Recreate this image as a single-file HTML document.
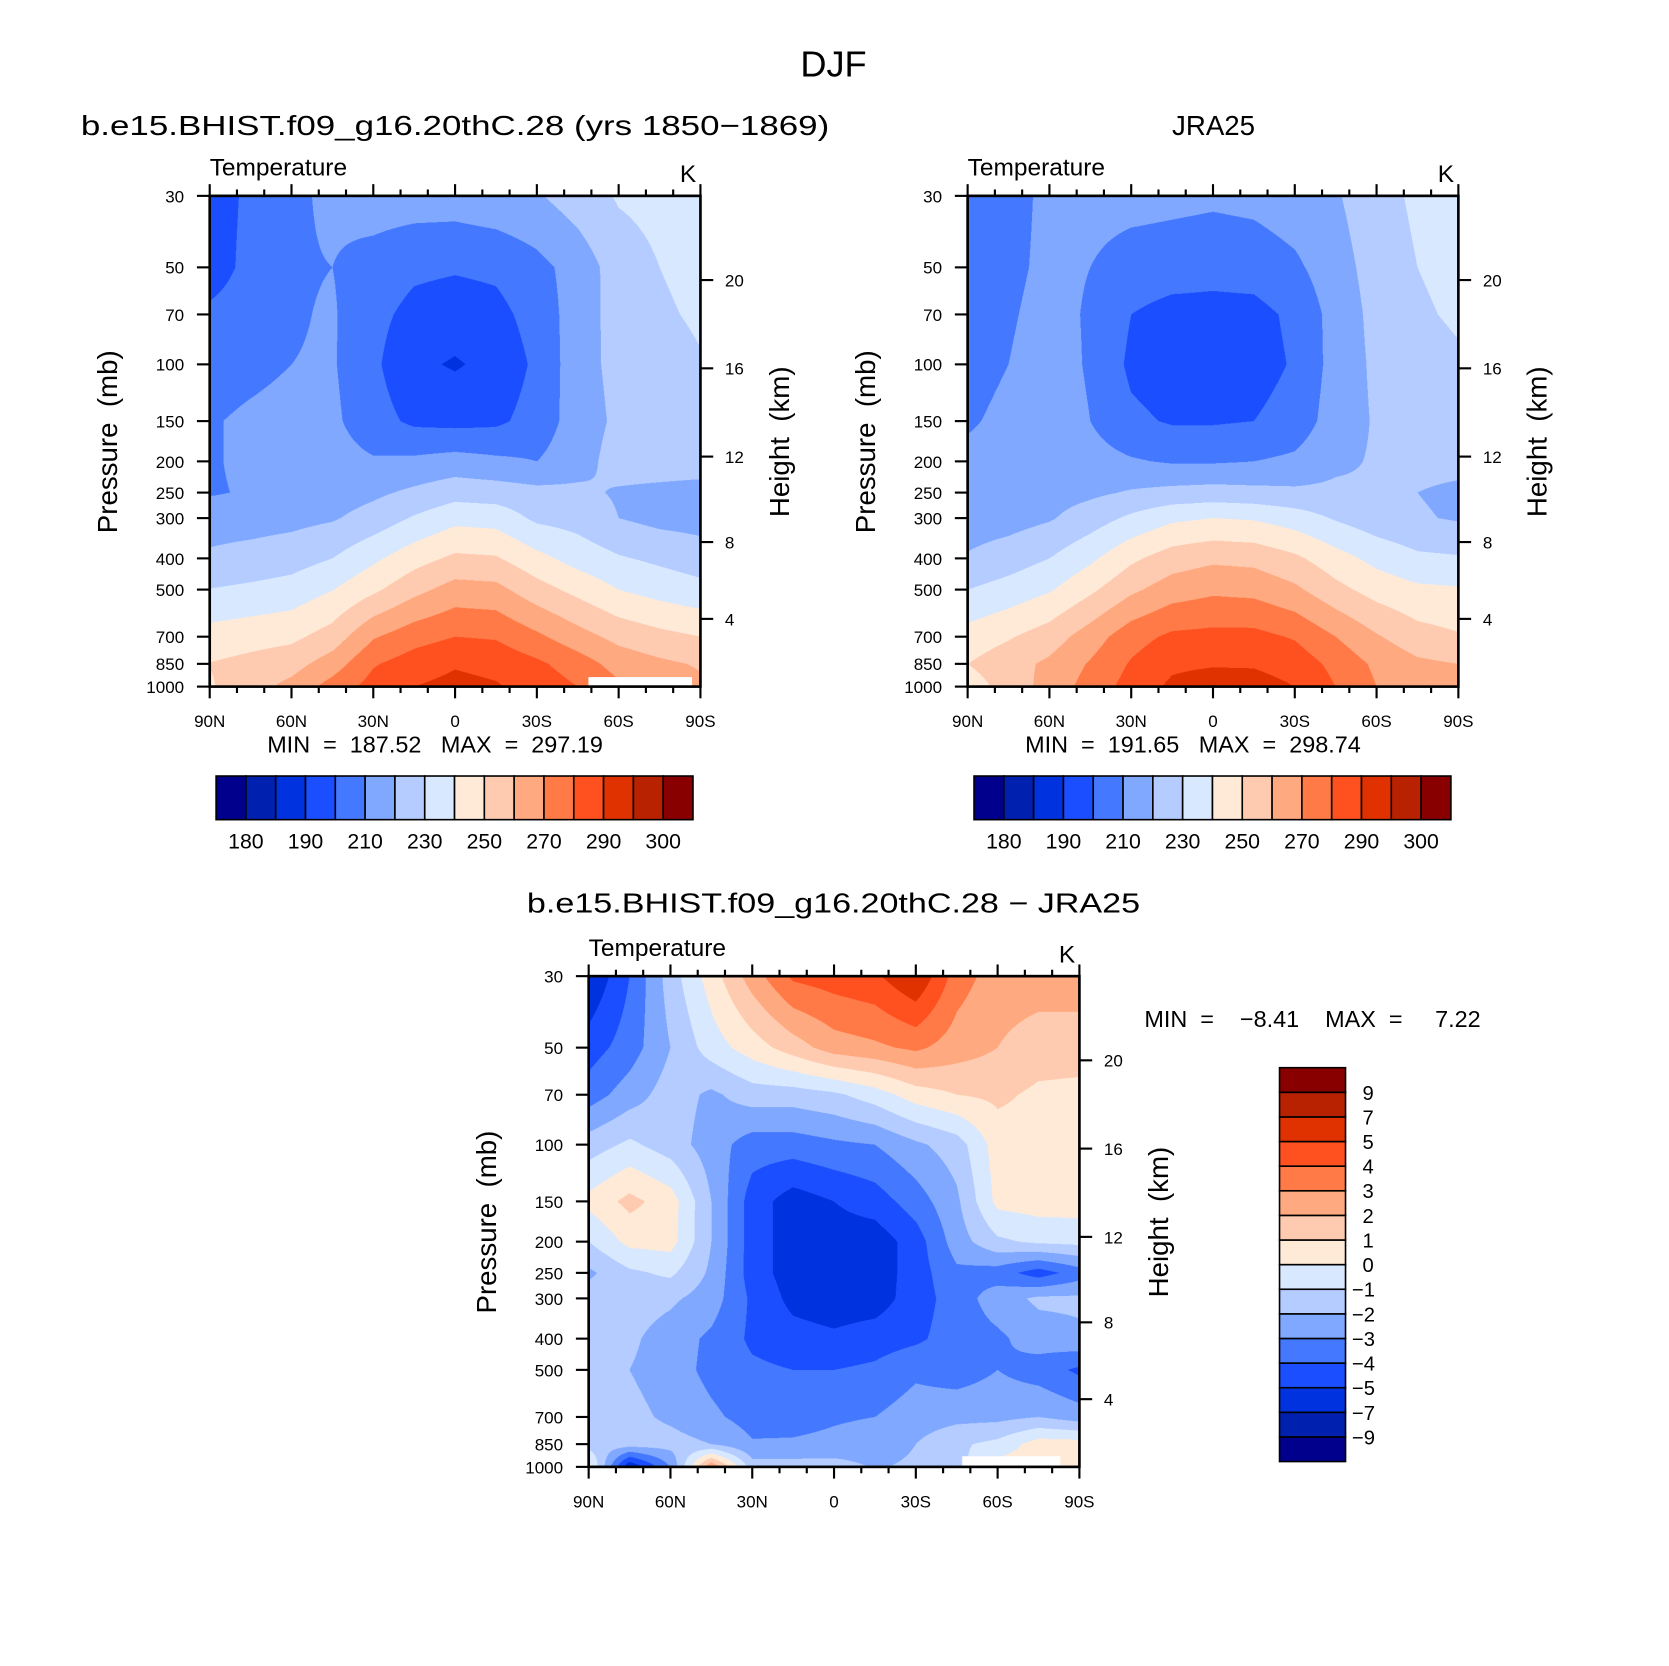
<!DOCTYPE html>
<html><head><meta charset="utf-8">
<style>
html,body{margin:0;padding:0;background:#fff;width:1669px;height:1666px;overflow:hidden}
#wrap{position:absolute;left:0;top:0;width:1568px;height:1565px;transform:scale(1.0645);transform-origin:0 0}
canvas{position:absolute}
svg{position:absolute;left:0;top:0}
text{font-family:"Liberation Sans",sans-serif;fill:#000;white-space:pre}
</style></head>
<body>
<div id="wrap">
<canvas id="c1" width="922" height="922" style="left:197px;top:184px;width:461px;height:461px"></canvas>
<canvas id="c2" width="922" height="922" style="left:909px;top:184px;width:461px;height:461px"></canvas>
<canvas id="c3" width="922" height="922" style="left:553px;top:917px;width:461px;height:461px"></canvas>
<svg id="ov" width="1568" height="1565" viewBox="0 0 1568 1565">
<text x="783" y="72" font-size="34" text-anchor="middle">DJF</text>
<text x="76" y="127" font-size="26" textLength="703" lengthAdjust="spacingAndGlyphs">b.e15.BHIST.f09_g16.20thC.28 (yrs 1850−1869)</text>
<text x="1140" y="127" font-size="26" text-anchor="middle">JRA25</text>
<text x="783" y="857" font-size="26" text-anchor="middle" textLength="576" lengthAdjust="spacingAndGlyphs">b.e15.BHIST.f09_g16.20thC.28 − JRA25</text>
</svg>
</div>
<script>
// ---- data ----
const lats = ['90N','75N','60N','45N','30N','15N','0','15S','30S','45S','60S','75S','90S'];
const levels = [30,50,70,100,150,200,250,300,400,500,700,850,1000];
const tempBounds = [180,185,190,200,210,220,230,240,250,260,270,280,290,295,300];
const tempLabels = ['180','190','210','230','250','270','290','300'];
const diffBounds = [-9,-7,-5,-4,-3,-2,-1,0,1,2,3,4,5,7,9];
const diffLabels = ['-9','-7','-5','-4','-3','-2','-1','0','1','2','3','4','5','7','9'];
const pLabels = [30,50,70,100,150,200,250,300,400,500,700,850,1000];
const hLabels = [4,8,12,16,20];
const latTickLabels = ['90N','60N','30N','0','30S','60S','90S'];
// rows = levels, cols = lats
const modelT = [
[195,202,208,212,215,215,215,217,219,225,231,233,234],
[195,203,209,210,206,202,201,202,207,214,225,230,232],
[202,205,209,211,203,197,195,197,204,215,224,229,231],
[205,207,210,211,202,192,189,193,202,216,223,227,229.5],
[209,212,214,212,204,198,197,198,204,215,222,224,225],
[209,212,214,214,211,212,214,212,210,216,224,224,224],
[209,211,212,215,218,222,226,225,223,222,219,218,217],
[216,216,217,219,224,231,237,236,228,226,220,217,216],
[221.5,223.5,225.7,230,238,246,252,251,243,236,231,228,225],
[230.3,232,234,239.7,248,257,264,263,254,247,240,236,233],
[244,246,247.7,254.3,269,276,280,279,272,264,257,253,250],
[250.3,253,256,265,279,285,289,287,282,275,266,262,259],
[249,256,263,274,284,290,293,291,286,280,272,266,262]];
const jraT = [
[205,207,212,214,214,213,212,213,216,219,226,232,233],
[206,208,212,210,205,204,203,204,208,216,224,230,232],
[207,209,213,209,200,197,197,197,202,214,223,229,231],
[207,210,214,209,198,195,195,196,201,214,222,227,229],
[209,212,215,210,202,199,199,200,204,215,221,223,224],
[212,214,216,214,211,209,209,210,212,218,221,223,223],
[214,215,216,218,221,223,224,223,222,222,221,220,218],
[215,216,219,225,232,238,240,239,235,229,224,221,219],
[221,225,230,238,248,255,258,257,252,244,237,232,231],
[230,234,239,248,258,265,268,267,262,253,246,242,241],
[244,249,255,265,276,282,283,283,279,270,261,254,251],
[250,256,262,271,281,288,289,289,286,277,268,262,260],
[245,254,264,274,284,292,295.5,294,290,280,270,264,262]];
const diffT = [
[-6,-4,-1.5,0.5,2.5,4.2,4.5,4.8,6,3.5,2.5,2.5,2.5],
[-4.5,-3.5,-2,-0.5,0.5,1.5,2.5,2.8,3.2,2.5,2,1.5,1.5],
[-3.5,-2.5,-1.5,-2.2,-1.5,-1.5,-1.2,-0.5,0.5,1,1.2,0.8,0.7],
[-1.5,-0.8,-1.5,-2.5,-3.5,-3.5,-3.2,-3,-2.2,-1.5,0.5,0.6,0.6],
[0.3,1.3,0.5,-2,-4.5,-5.5,-5,-4.5,-3.5,-2.2,0.3,0.5,0.5],
[-1,0.3,0.4,-2,-4.5,-5.5,-5.5,-5.6,-4.5,-2.5,-1.2,-0.8,-0.7],
[-2.2,-1.2,-0.8,-2.2,-4.5,-5.5,-5.7,-5.6,-4.5,-3.2,-3.5,-4.5,-3.5],
[-1.5,-1.5,-1.8,-2.5,-4.2,-5.3,-5.6,-5.5,-4.5,-3.5,-2.5,-1.8,-1.8],
[-1.5,-1.8,-2.5,-3.2,-4.2,-4.6,-4.8,-4.5,-4.2,-3.5,-3.2,-2.5,-2.2],
[-1.5,-2,-2.5,-3.3,-3.8,-4,-4,-3.8,-3.2,-3.5,-3,-3.5,-4.2],
[-1.3,-1.7,-2.2,-2.8,-3.4,-3.3,-3.1,-3,-2.5,-2.3,-2.3,-2,-2.5],
[-1.5,-1.5,-1.6,-2,-2.9,-2.9,-2.8,-2.6,-2,-1.2,-0.7,0.5,0.5],
[0.5,-6,-3,3,-1.5,-1.5,-1.5,-2.1,-1.8,-1.5,0.5,0.5,0.5]];
const palette = ['#00008c','#0020b0','#0032e0','#1a4eff','#4478ff','#80a8ff','#b4ccff','#d8e8ff','#ffead8','#ffcbb0','#ffa980','#ff7a46','#ff5020','#e03200','#b82200','#880000'];

// ---- scales ----
const PH = 461, PW = 461;
function yP(p){ return PH*Math.log(p/30)/Math.log(1000/30); }
function xDeg(d){ return PW*(90-d)/180; }
function pOfZ(zkm){ const z=zkm*1000; if(z<11000) return 1013.25*Math.pow(1-2.25577e-5*z,5.25588); return 226.32*Math.exp(-(z-11000)/6341.6); }
function binIndex(v,b){ let k=0; for(const t of b){ if(v>=t) k++; } return k; }
function rgb(h){ return [parseInt(h.slice(1,3),16),parseInt(h.slice(3,5),16),parseInt(h.slice(5,7),16)]; }
const palRGB = palette.map(rgb);

function drawField(id, grid, bounds){
  const cv=document.getElementById(id), ctx=cv.getContext('2d');
  const W=cv.width,H=cv.height, s=W/PW;
  const img=ctx.createImageData(W,H);
  const ys=levels.map(p=>yP(p)*s);
  for(let py=0;py<H;py++){
    const yy=py+0.5; let r=0;
    while(r<levels.length-2 && yy>ys[r+1]) r++;
    let fy=(yy-ys[r])/(ys[r+1]-ys[r]); fy=Math.max(0,Math.min(1,fy));
    for(let px=0;px<W;px++){
      const gx=(px+0.5)/W*(lats.length-1);
      let c=Math.min(lats.length-2,Math.floor(gx)); const fx=gx-c;
      const v=(grid[r][c]*(1-fx)+grid[r][c+1]*fx)*(1-fy)+(grid[r+1][c]*(1-fx)+grid[r+1][c+1]*fx)*fy;
      const col=palRGB[binIndex(v,bounds)];
      const o=(py*W+px)*4; img.data[o]=col[0];img.data[o+1]=col[1];img.data[o+2]=col[2];img.data[o+3]=255;
    }
  }
  ctx.putImageData(img,0,0);
}
drawField('c1',modelT,tempBounds);
drawField('c2',jraT,tempBounds);
drawField('c3',diffT,diffBounds);
// below-ground masks
(function(){ const x=document.getElementById('c1').getContext('2d'); x.fillStyle='#fff'; x.fillRect(xDeg(-45)*2+20,(PH-9)*2,(xDeg(-83)-xDeg(-45))*2,18); })();
(function(){ const x=document.getElementById('c3').getContext('2d'); x.fillStyle='#fff'; x.fillRect(xDeg(-47)*2,(PH-10)*2,(xDeg(-83)-xDeg(-47))*2,20); })();

// ---- axes ----
const NS='http://www.w3.org/2000/svg';
const ov=document.getElementById('ov');
function el(tag,attrs,parent){ const e=document.createElementNS(NS,tag); for(const k in attrs) e.setAttribute(k,attrs[k]); (parent||ov).appendChild(e); return e; }

function axes(ox,oy,key,minmaxText,mmX,mmY){
  const g=el('g',{});
  
  
  const fr=el('rect',{x:ox,y:oy,width:PW,height:PH,fill:'none',stroke:'#000','stroke-width':2.5},g);
  
  
  for(let d=90; d>=-90; d-=10){
    const x=ox+xDeg(d), major=(d%30===0), L=major?11:6;
    el('line',{x1:x,y1:oy,x2:x,y2:oy-L,stroke:'#000','stroke-width':2},g);
    el('line',{x1:x,y1:oy+PH,x2:x,y2:oy+PH+L,stroke:'#000','stroke-width':2},g);
  }
  latTickLabels.forEach((lab,i)=>{
    const t=el('text',{x:ox+PW*i/6,y:oy+PH+38,'font-size':16,'text-anchor':'middle'},g); t.textContent=lab;
    
    
  });
  pLabels.forEach(p=>{
    const y=oy+yP(p);
    el('line',{x1:ox,y1:y,x2:ox-12,y2:y,stroke:'#000','stroke-width':2},g);
    const t=el('text',{x:ox-24,y:y+6,'font-size':16,'text-anchor':'end'},g); t.textContent=p;
    
    
  });
  hLabels.forEach(h=>{
    const y=oy+yP(pOfZ(h));
    el('line',{x1:ox+PW,y1:y,x2:ox+PW+12,y2:y,stroke:'#000','stroke-width':2},g);
    const t=el('text',{x:ox+PW+23,y:y+6,'font-size':16},g); t.textContent=h;
    
    
  });
  let t=el('text',{x:ox,y:oy-19,'font-size':23},g); t.textContent='Temperature';
  
  
  t=el('text',{x:ox+PW-4,y:oy-13,'font-size':23,'text-anchor':'end'},g); t.textContent='K';
  
  
  t=el('text',{x:0,y:0,'font-size':26,'text-anchor':'middle',transform:`translate(${ox-87},${oy+231}) rotate(-90)`},g); t.textContent='Pressure  (mb)';
  
  
  t=el('text',{x:0,y:0,'font-size':26,'text-anchor':'middle',transform:`translate(${ox+PW+83},${oy+231}) rotate(-90)`},g); t.textContent='Height  (km)';
  
  
  t=el('text',{x:mmX,y:mmY,'font-size':22},g); t.textContent=minmaxText;
  
  
}
axes(197,184,'model','MIN  =  187.52   MAX  =  297.19',251,707);
axes(909,184,'jra','MIN  =  191.65   MAX  =  298.74',963,707);
axes(553,917,'diff','MIN  =    −8.41    MAX  =     7.22',1075,965);

function hbar(ox,oy,key){
  const g=el('g',{});
  
  
  const w=28;
  palette.forEach((c,i)=>{
    const r=el('rect',{x:ox+i*w,y:oy,width:w,height:41,fill:c,stroke:'#000','stroke-width':1.5},g);
    
    
  });
  tempLabels.forEach((lab,i)=>{
    const t=el('text',{x:ox+w*(1+2*i),y:oy+68,'font-size':20,'text-anchor':'middle'},g); t.textContent=lab;
    
    
  });
}
hbar(203,729,'model');
hbar(915,729,'jra');
(function(){
  const g=el('g',{});
  
  
  const ox=1202, oy=1003, h=370/16;
  palette.forEach((c,i)=>{
    const r=el('rect',{x:ox,y:oy+(15-i)*h,width:62,height:h,fill:c,stroke:'#000','stroke-width':1.5},g);
    
    
  });
  diffLabels.forEach((lab,i)=>{
    const y=oy+(15-i)*h;
    const t=el('text',{x:1280,y:y+7,'font-size':19},g); t.textContent=lab.replace('-','−');
    if(lab[0]==='-') t.setAttribute('x',1270);
    
    
  });
})();
</script>
</body></html>
